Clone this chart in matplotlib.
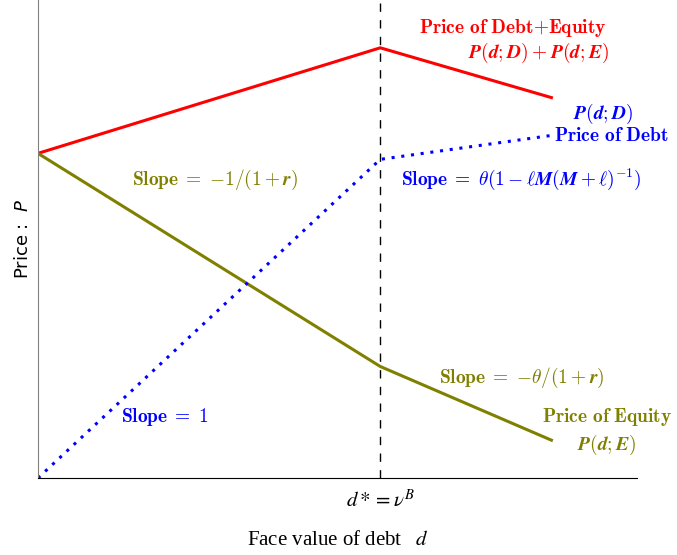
import matplotlib.pyplot as plt
import numpy as np

# face value of debt: origin, kink d* = v^B, end
face_value = [0.0, 0.8, 1.2]
price_debt = [0.0, 0.8, 0.86]
price_equity = [0.815, 0.28, 0.095]
price_total = list(np.add(price_debt, price_equity))
d_star = 0.8

olive = '#808000'

fig = plt.figure(figsize=(6.77, 5.55), dpi=100)
ax = fig.add_axes([0.0561, 0.1387, 0.8848, 0.8613])

ax.plot(face_value, price_total, color='red', lw=2.2)
ax.plot(face_value, price_equity, color=olive, lw=2.2)
ax.plot(face_value, price_debt, color='blue', lw=2.2, ls=(0, (1, 2.2)))
ax.axvline(d_star, color='black', lw=1, ls=(0, (6, 6)))

ax.set_xlim(0, 1.4)
ax.set_ylim(0, 1.2)

for s in ['top', 'right']:
    ax.spines[s].set_visible(False)
ax.spines['left'].set_color('gray')
ax.spines['bottom'].set_color('black')

ax.set_yticks([])
ax.set_xticks([d_star])
ax.set_xticklabels([r'$d* = \nu^B$'])
ax.tick_params(axis='x', length=0, pad=8)
for t in ax.get_xticklabels():
    t.set_fontsize(15)
    t.set_math_fontfamily('stix')

ax.set_xlabel(r'Face value of debt  $\;d$', fontsize=15, family='Liberation Serif',
              math_fontfamily='stix', labelpad=14)
ax.set_ylabel(r'Price :  $P$', fontsize=13, labelpad=4)

kw = dict(ha='center', va='center', fontsize=14, math_fontfamily='cm')
eq = r'\;=\;'
ax.text(1.11, 1.129, r'$\mathbf{Price\ of\ Debt{+}Equity}$', color='red', **kw)
ax.text(1.17, 1.068, r'$\mathbfit{P}(\mathbfit{d};\mathbfit{D})+\mathbfit{P}(\mathbfit{d};\mathbfit{E})$', color='red', **kw)
ax.text(1.32, 0.915, r'$\mathbfit{P}(\mathbfit{d};\mathbfit{D})$', color='blue', **kw)
ax.text(1.34, 0.86, r'$\mathbf{Price\ of\ Debt}$', color='blue', **kw)
ax.text(1.13, 0.749, r'$\mathbf{Slope}' + eq + r'{\theta}(1-\ell \mathbfit{M}(\mathbfit{M}+\ell)^{-1})$', color='blue', **kw)
ax.text(0.415, 0.749, r'$\mathbf{Slope}' + eq + r'{-}1/(1+\mathbfit{r})$', color=olive, **kw)
ax.text(1.13, 0.252, r'$\mathbf{Slope}' + eq + r'{-}\theta/(1+\mathbfit{r})$', color=olive, **kw)
ax.text(1.33, 0.152, r'$\mathbf{Price\ of\ Equity}$', color=olive, **kw)
ax.text(1.33, 0.084, r'$\mathbfit{P}(\mathbfit{d};\mathbfit{E})$', color=olive, **kw)
ax.text(0.297, 0.152, r'$\mathbf{Slope}' + eq + r'1$', color='blue', **kw)

fig.savefig('out.png', dpi=100)
